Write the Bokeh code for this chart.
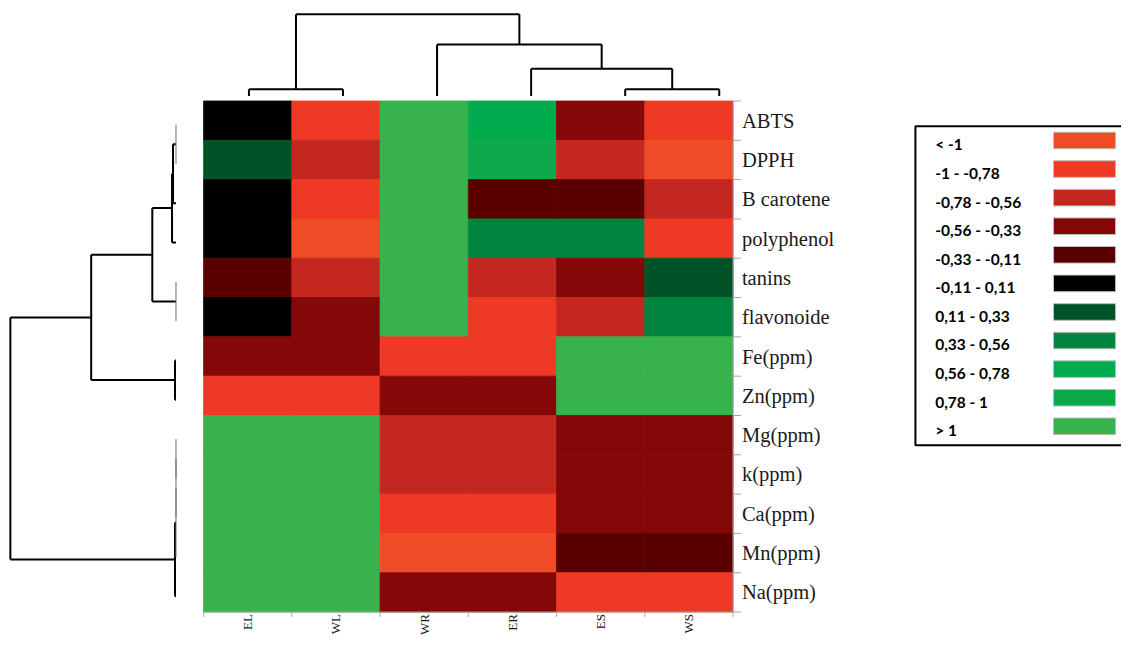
import numpy as np
from bokeh.plotting import figure
from bokeh.models import ColumnDataSource, Range1d
from bokeh.embed import file_html
from bokeh.resources import INLINE
from bokeh.core.properties import value

# ---------------- data ----------------
variables = ["ABTS", "DPPH", "B carotene", "polyphenol", "tanins", "flavonoide",
             "Fe(ppm)", "Zn(ppm)", "Mg(ppm)", "k(ppm)", "Ca(ppm)", "Mn(ppm)", "Na(ppm)"]
samples = ["EL", "WL", "WR", "ER", "ES", "WS"]

# standardized values (columns: EL, WL, WR, ER, ES, WS)
z_abts = [0.02, -0.90, 1.45, 0.68, -0.42, -0.88]
z_dpph = [0.20, -0.66, 1.45, 0.86, -0.64, -1.10]
z_bcarotene = [-0.03, -0.92, 1.45, -0.25, -0.27, -0.62]
z_polyphenol = [0.05, -1.05, 1.45, 0.47, 0.45, -0.85]
z_tanins = [-0.20, -0.70, 1.45, -0.68, -0.40, 0.25]
z_flavonoide = [0.00, -0.47, 1.45, -0.95, -0.70, 0.42]
z_fe = [-0.45, -0.45, -0.93, -0.93, 1.18, 1.18]
z_zn = [-0.88, -0.88, -0.50, -0.50, 1.20, 1.20]
z_mg = [1.22, 1.22, -0.65, -0.65, -0.50, -0.50]
z_k = [1.22, 1.22, -0.63, -0.63, -0.50, -0.50]
z_ca = [1.22, 1.22, -0.85, -0.85, -0.44, -0.44]
z_mn = [1.23, 1.23, -1.08, -1.08, -0.20, -0.20]
z_na = [1.22, 1.22, -0.48, -0.48, -0.90, -0.90]
z_rows = [z_abts, z_dpph, z_bcarotene, z_polyphenol, z_tanins, z_flavonoide,
          z_fe, z_zn, z_mg, z_k, z_ca, z_mn, z_na]

bin_edges = [-1, -0.78, -0.56, -0.33, -0.11, 0.11, 0.33, 0.56, 0.78, 1]
bin_labels = ["< -1", "-1 - -0,78", "-0,78 - -0,56", "-0,56 - -0,33", "-0,33 - -0,11",
              "-0,11 - 0,11", "0,11 - 0,33", "0,33 - 0,56", "0,56 - 0,78", "0,78 - 1", "> 1"]
bin_colors = ["#EE4B26", "#EE3A24", "#C3271F", "#850808", "#5A0000", "#000000",
              "#005326", "#00853F", "#00AC4E", "#0DAA4B", "#37B24D"]

# hierarchical clustering (scipy-like linkage: pairs of node ids, normalised heights)
row_merges = [(0, 1), (13, 2), (14, 3), (4, 5), (15, 16), (6, 7), (17, 18),
              (8, 9), (20, 10), (21, 11), (22, 12), (19, 23)]
row_heights = [0.0, 0.018, 0.024, 0.0, 0.143, 0.006, 0.512, 0.0, 0.0, 0.0, 0.006, 1.0]
col_merges = [(0, 1), (4, 5), (3, 7), (2, 8), (6, 9)]
col_heights = [0.083, 0.083, 0.333, 0.631, 1.0]

# ---------------- layout helpers (reference pixels -> data units) ----------------
W, H = 1121, 637
REF_W, REF_H = 1137, 653
CELL_W, CELL_H = 89.5, 40.3
HEAT_LEFT, HEAT_TOP = 206.0, 103.0
HEAT_BOTTOM = HEAT_TOP + CELL_H * len(variables)


def X(px):
    return (px - HEAT_LEFT) / CELL_W


def Y(py):
    return (HEAT_BOTTOM - py) / CELL_H


p = figure(width=W, height=H, output_backend="svg", toolbar_location=None,
           x_range=Range1d(X(0), X(REF_W)), y_range=Range1d(Y(REF_H), Y(0)),
           min_border=0, x_axis_location=None, y_axis_location=None)
p.grid.visible = False
p.outline_line_color = None
p.background_fill_color = "white"

nrow, ncol = len(variables), len(samples)

# ---------------- heatmap ----------------
left, right, bottom, top, colors = [], [], [], [], []
for i, row in enumerate(z_rows):
    cls = np.digitize(row, bin_edges)
    for j, c in enumerate(cls):
        left.append(j)
        right.append(j + 1)
        top.append(nrow - i)
        bottom.append(nrow - i - 1)
        colors.append(bin_colors[c])
p.quad(left="l", right="r", top="t", bottom="b", fill_color="c", line_color="c",
       line_width=0.8,
       source=ColumnDataSource(dict(l=left, r=right, t=top, b=bottom, c=colors)))

# axes (right and bottom) drawn as thin grey lines with boundary ticks
axis_col = "#a6a6a6"
p.segment(x0=[ncol], y0=[0], x1=[ncol], y1=[nrow], line_color=axis_col, line_width=1)
p.segment(x0=[ncol] * (nrow + 1), y0=list(range(nrow + 1)),
          x1=[X(751)] * (nrow + 1), y1=list(range(nrow + 1)),
          line_color=axis_col, line_width=1)
p.segment(x0=[0], y0=[0], x1=[ncol], y1=[0], line_color=axis_col, line_width=1)
p.segment(x0=list(range(ncol + 1)), y0=[0] * (ncol + 1),
          x1=list(range(ncol + 1)), y1=[Y(HEAT_BOTTOM + 5)] * (ncol + 1),
          line_color=axis_col, line_width=1)

# row labels
p.text(x=[X(752)] * nrow, y=[nrow - i - 0.5 for i in range(nrow)], text=variables,
       text_font=value("Liberation Serif"), text_font_size="20.5px",
       text_align="left", text_baseline="middle", text_color="#1a1a1a")

# column labels (rotated)
p.text(x=[j + 0.5 for j in range(ncol)], y=[Y(629)] * ncol, text=samples,
       angle=np.pi / 2, text_font=value("Liberation Serif"), text_font_size="13px",
       text_align="right", text_baseline="middle", text_color="#1a1a1a")


# ---------------- dendrograms ----------------
def dendro(merges, heights, leaf_pos):
    pos = list(leaf_pos)
    hts = [0.0] * len(leaf_pos)
    thick, thin = [], []
    for (a, b), h in zip(merges, heights):
        if h > hts[a]:
            thick.append((pos[a], hts[a], pos[a], h))
        if h > hts[b]:
            thick.append((pos[b], hts[b], pos[b], h))
        (thin if h == 0 else thick).append((pos[a], h, pos[b], h))
        pos.append((pos[a] + pos[b]) / 2.0)
        hts.append(h)
    return thick, thin


# column dendrogram (top)
col_leaf_x = [X(252) + j * 95.4 / CELL_W for j in range(ncol)]
c_base, c_span = Y(98), (98 - 14) / CELL_H
thick, thin = dendro(col_merges, col_heights, col_leaf_x)
p.segment(x0=[s[0] for s in thick], y0=[c_base + s[1] * c_span for s in thick],
          x1=[s[2] for s in thick], y1=[c_base + s[3] * c_span for s in thick],
          line_color="black", line_width=2)

# row dendrogram (left)
row_leaf_y = [nrow - i - 0.5 - 0.1 for i in range(nrow)]
r_base, r_span = X(178), (178 - 10) / CELL_W
thick, thin = dendro(row_merges, row_heights, row_leaf_y)
p.segment(x0=[r_base - s[1] * r_span for s in thick], y0=[s[0] for s in thick],
          x1=[r_base - s[3] * r_span for s in thick], y1=[s[2] for s in thick],
          line_color="black", line_width=2)
p.segment(x0=[r_base - s[1] * r_span for s in thin], y0=[s[0] for s in thin],
          x1=[r_base - s[3] * r_span for s in thin], y1=[s[2] for s in thin],
          line_color="#6e6e6e", line_width=1)

# ---------------- legend ----------------
p.quad(left=[X(928)], right=[X(1150)], top=[Y(129)], bottom=[Y(456)],
       fill_color="white", line_color="black", line_width=2)
n_bins = len(bin_labels)
sw_top = [135 + k * 29.3 for k in range(n_bins)]
p.quad(left=[X(1068)] * n_bins, right=[X(1131)] * n_bins,
       top=[Y(t) for t in sw_top], bottom=[Y(t + 17) for t in sw_top],
       fill_color=bin_colors, line_color="#bdbdbd", line_width=1)
p.text(x=[X(948)] * n_bins, y=[Y(t + 8.5 + 4) for t in sw_top], text=bin_labels,
       text_font=value("Lato"), text_font_style="bold", text_font_size="15.5px",
       text_align="left", text_baseline="middle", text_color="black")

open("out.html", "w").write(file_html(p, INLINE))
